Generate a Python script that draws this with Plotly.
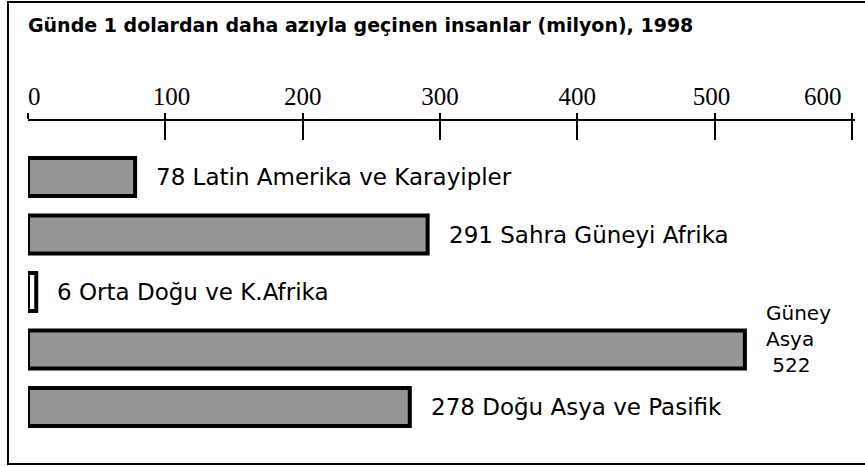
import plotly.graph_objects as go

# ---- data ----
regions = ["Latin Amerika ve Karayipler", "Sahra Güneyi Afrika", "Orta Doğu ve K.Afrika",
           "Güney Asya", "Doğu Asya ve Pasifik"]
values = [78, 291, 6, 522, 278]
label_style = ["inline", "inline", "inline", "stacked", "inline"]
tick_vals = [0, 100, 200, 300, 400, 500, 600]
tick_labels = ["0", "100", "200", "300", "400", "500", "600"]
title_text = "Günde 1 dolardan daha azıyla geçinen insanlar (milyon), 1998"

# ---- styling ----
fill_colors = ["#969696", "#969696", "#ffffff", "#969696", "#969696"]
NB = "\u00a0"
tick_pad_left = [2, 2, 0, 0, 0, 0, 0]
tick_pad_right = [0, 0, 0, 0, 0, 1, 0]
tick_text = [NB * l + t + NB * r for t, l, r in zip(tick_labels, tick_pad_left, tick_pad_right)]
# the last label sits left of its tick (inside the frame), so it is drawn as an annotation
tick_text[-1] = ""

W, H = 865, 467
ML, MR, MT, MB = 28, 10, 121, 3
plot_w = W - ML - MR
px_per_unit = 824 / 600
X_RANGE = [0, plot_w / px_per_unit]
TICK_FONT = dict(family="Liberation Serif", size=25, color="black")

fig = go.Figure()
fig.add_trace(go.Bar(
    x=values, y=regions, orientation="h",
    marker=dict(color=fill_colors, line=dict(color="black", width=4)),
    width=0.66, showlegend=False, hoverinfo="skip",
))
# helper trace so the overlaying axis (downward tick stubs) is drawn
fig.add_trace(go.Scatter(x=[], y=[], xaxis="x2", yaxis="y", showlegend=False))

annotations = []
for r, v, s in zip(regions, values, label_style):
    if s == "stacked":
        txt = r.replace(" ", "<br>") + "<br>" + NB + str(v)
        annotations.append(dict(x=v, y=r, xref="x", yref="y", text=txt, showarrow=False,
                                xanchor="left", yanchor="middle", align="left",
                                xshift=19, yshift=11,
                                font=dict(family="DejaVu Sans", size=20, color="black")))
    else:
        annotations.append(dict(x=v, y=r, xref="x", yref="y", text=f"{v} {r}", showarrow=False,
                                xanchor="left", yanchor="middle", xshift=19,
                                font=dict(family="DejaVu Sans", size=23, color="black")))

annotations.append(dict(x=tick_vals[-1], y=1, xref="x", yref="paper", text=tick_labels[-1],
                        showarrow=False, xanchor="right", yanchor="bottom",
                        xshift=-8, yshift=9, font=TICK_FONT))

plot_h = H - MT - MB

fig.update_layout(
    width=W, height=H,
    margin=dict(l=ML, r=MR, t=MT, b=MB, pad=0, autoexpand=False),
    paper_bgcolor="white", plot_bgcolor="white",
    title=dict(text="<b>" + title_text + "</b>", x=0, xref="paper", xanchor="left",
               y=1 - 25 / H, yref="container", yanchor="middle",
               font=dict(family="DejaVu Sans", size=19, color="black")),
    xaxis=dict(side="top", range=X_RANGE, tickmode="array", tickvals=tick_vals, ticktext=tick_text,
               ticks="outside", ticklen=6, tickwidth=2, tickcolor="black",
               ticklabelstandoff=-2, ticklabeloverflow="allow",
               showline=True, linewidth=2, linecolor="black", showgrid=False, zeroline=False,
               tickfont=TICK_FONT, fixedrange=True),
    xaxis2=dict(overlaying="x", matches="x", side="top", anchor="y", range=X_RANGE,
                tickmode="linear", tick0=0, dtick=100,
                ticks="inside", ticklen=19, tickwidth=2, tickcolor="black",
                showticklabels=False, showline=False, showgrid=False, zeroline=False),
    yaxis=dict(type="category", categoryorder="array", categoryarray=regions,
               range=[4.991, -0.974], showticklabels=False, showgrid=False, zeroline=False,
               showline=False, ticks="", fixedrange=True),
    annotations=annotations,
    shapes=[dict(type="rect", xref="paper", yref="paper",
                 x0=(8 - ML) / plot_w, x1=1.1, y0=0, y1=(plot_h + MT - 2) / plot_h,
                 line=dict(color="black", width=2), fillcolor="rgba(0,0,0,0)", layer="above")],
)

fig.write_html("out.html", config={"displayModeBar": False},
               post_script="document.body.style.margin='0px';")
